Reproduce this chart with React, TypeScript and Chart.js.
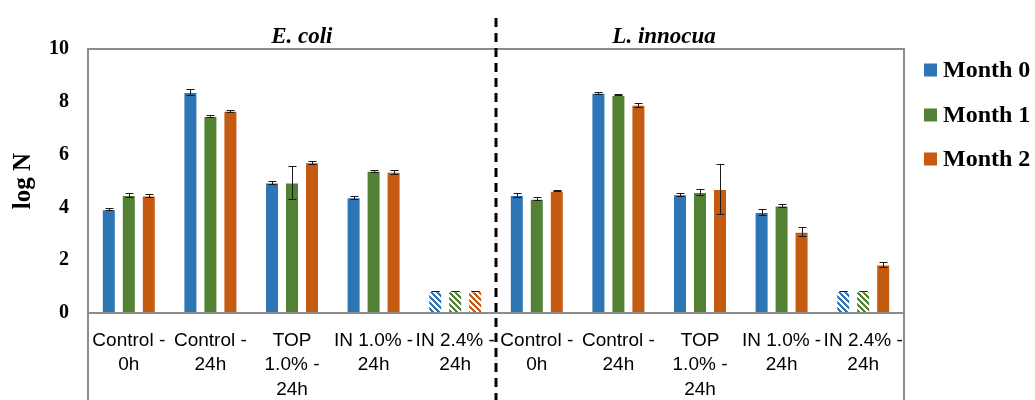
import { useEffect, useRef } from "react";
import { Chart, registerables } from "chart.js";

Chart.register(...registerables);

// Treatment groups (first five: E. coli, last five: L. innocua)
const categories: string[][] = [
  ["Control -", "0h"],
  ["Control -", "24h"],
  ["TOP", "1.0% -", "24h"],
  ["IN 1.0% -", "24h"],
  ["IN 2.4% -", "24h"],
  ["Control -", "0h"],
  ["Control -", "24h"],
  ["TOP", "1.0% -", "24h"],
  ["IN 1.0% -", "24h"],
  ["IN 2.4% -", "24h"],
];

const organisms = ["E. coli", "L. innocua"];
const seriesLabels = ["Month 0", "Month 1", "Month 2"];
const seriesColors = ["#2E75B6", "#548235", "#C55A11"];

// log N means
const month0 = [3.93, 8.37, 4.94, 4.38, 0.82, 4.47, 8.34, 4.5, 3.83, 0.82];
const month1 = [4.47, 7.46, 4.94, 5.39, 0.82, 4.33, 8.26, 4.58, 4.07, 0.82];
const month2 = [4.45, 7.66, 5.71, 5.35, 0.82, 4.63, 7.89, 4.7, 3.08, 1.84];

// standard deviations
const err0 = [0.04, 0.1, 0.05, 0.05, 0, 0.08, 0.04, 0.06, 0.1, 0];
const err1 = [0.06, 0.05, 0.62, 0.04, 0, 0.06, 0.02, 0.1, 0.06, 0];
const err2 = [0.05, 0.04, 0.05, 0.08, 0, 0.02, 0.08, 0.96, 0.18, 0.08];

// below detection limit (drawn hatched)
const below0 = [false, false, false, false, true, false, false, false, false, true];
const below1 = [false, false, false, false, true, false, false, false, false, true];
const below2 = [false, false, false, false, true, false, false, false, false, false];

const yMin = 0;
const yMax = 10;
const yStep = 2;

const FRAME = "#8c8c8c";

function hatch(color: string): CanvasPattern | string {
  const size = 6;
  const c = document.createElement("canvas");
  c.width = size;
  c.height = size;
  const g = c.getContext("2d");
  if (!g) return color;
  g.fillStyle = "#ffffff";
  g.fillRect(0, 0, size, size);
  g.fillStyle = color;
  for (let y = 0; y < size; y++) {
    for (let x = 0; x < size; x++) {
      if ((((x - y) % size) + size) % size < 2.5) g.fillRect(x, y, 1, 1);
    }
  }
  const p = g.createPattern(c, "repeat");
  return p || color;
}

export default function App() {
  const ref = useRef<HTMLCanvasElement | null>(null);

  useEffect(() => {
    const canvas = ref.current;
    if (!canvas) return;

    const values = [month0, month1, month2];
    const errors = [err0, err1, err2];
    const below = [below0, below1, below2];

    const datasets = values.map((vals, i) => {
      const pat = hatch(seriesColors[i]);
      return {
        label: seriesLabels[i],
        data: vals,
        backgroundColor: vals.map((_, j) => (below[i][j] ? pat : seriesColors[i])),
        borderColor: "rgba(255,255,255,0.55)",
        borderWidth: 1,
        barPercentage: 0.7,
        categoryPercentage: 0.735,
      };
    });

    const decorations = {
      id: "decorations",
      afterDatasetsDraw(chart: any) {
        const { ctx, chartArea, scales } = chart;
        const y = scales.y;
        // error bars
        ctx.save();
        ctx.strokeStyle = "#1a1a1a";
        ctx.lineWidth = 1;
        chart.data.datasets.forEach((_: any, di: number) => {
          const meta = chart.getDatasetMeta(di);
          meta.data.forEach((bar: any, j: number) => {
            const v = values[di][j];
            const e = errors[di][j];
            const x = Math.round(bar.x) + 0.5;
            const yt = Math.round(y.getPixelForValue(v + e)) + 0.5;
            const yb = Math.round(y.getPixelForValue(v - e)) + 0.5;
            ctx.beginPath();
            ctx.moveTo(x, yt);
            ctx.lineTo(x, yb);
            ctx.moveTo(x - 4, yt);
            ctx.lineTo(x + 4, yt);
            ctx.moveTo(x - 4, yb);
            ctx.lineTo(x + 4, yb);
            ctx.stroke();
          });
        });
        ctx.restore();

        // frame and zero line
        const h = chart.height;
        ctx.save();
        ctx.strokeStyle = FRAME;
        ctx.lineWidth = 2;
        ctx.beginPath();
        ctx.moveTo(chartArea.left, h);
        ctx.lineTo(chartArea.left, chartArea.top);
        ctx.lineTo(chartArea.right, chartArea.top);
        ctx.lineTo(chartArea.right, h);
        const y0 = y.getPixelForValue(0);
        ctx.moveTo(chartArea.left, y0);
        ctx.lineTo(chartArea.right, y0);
        ctx.stroke();
        ctx.restore();
      },
      afterDraw(chart: any) {
        const { ctx, chartArea, scales } = chart;
        const x = scales.x;
        const w = chartArea.right - chartArea.left;
        // divider between organisms
        const mid = (x.getPixelForValue(4) + x.getPixelForValue(5)) / 2;
        ctx.save();
        ctx.strokeStyle = "#000";
        ctx.lineWidth = 3;
        ctx.setLineDash([9, 6]);
        ctx.beginPath();
        ctx.moveTo(mid, 18);
        ctx.lineTo(mid, chart.height);
        ctx.stroke();
        ctx.restore();

        // organism headings
        ctx.save();
        ctx.fillStyle = "#000";
        ctx.font = "italic bold 23px 'Liberation Serif', serif";
        ctx.textAlign = "center";
        ctx.textBaseline = "alphabetic";
        ctx.fillText(organisms[0], chartArea.left + w * 0.262, 43);
        ctx.fillText(organisms[1], chartArea.left + w * 0.706, 43);
        ctx.restore();

        // legend
        ctx.save();
        ctx.font = "bold 24px 'Liberation Serif', serif";
        ctx.textBaseline = "middle";
        ctx.textAlign = "left";
        const rows = [70, 115, 159];
        chart.data.datasets.forEach((ds: any, i: number) => {
          const cy = rows[i];
          ctx.fillStyle = seriesColors[i];
          ctx.fillRect(chartArea.right + 20, cy - 6.5, 13, 13);
          ctx.fillStyle = "#000";
          ctx.fillText(ds.label, chartArea.right + 39, cy + 1);
        });
        ctx.restore();
      },
    };

    const chart = new Chart(canvas, {
      type: "bar",
      data: { labels: categories, datasets: datasets as any },
      options: {
        animation: false,
        responsive: false,
        devicePixelRatio: 1,
        layout: { padding: { left: 0, right: 131, top: 49, bottom: 0 } },
        plugins: {
          legend: { display: false },
          tooltip: { enabled: false },
        },
        scales: {
          x: {
            grid: { display: false, drawTicks: false },
            border: { display: false },
            ticks: {
              color: "#000",
              font: { family: "'Liberation Sans', Arial, sans-serif", size: 19, lineHeight: 1.27 },
              padding: 16,
              maxRotation: 0,
              minRotation: 0,
              autoSkip: false,
            },
            afterFit(scale: any) {
              scale.height = 87;
            },
          },
          y: {
            min: yMin,
            max: yMax,
            grid: { display: false, drawTicks: false },
            border: { display: false },
            ticks: {
              stepSize: yStep,
              color: "#000",
              font: { family: "'Liberation Serif', 'Times New Roman', serif", size: 20, weight: "bold" },
              padding: 19,
            },
            title: {
              display: true,
              text: "log N",
              color: "#000",
              font: { family: "'Liberation Serif', 'Times New Roman', serif", size: 25, weight: "bold" },
              padding: { top: 9, bottom: 0 },
            },
            afterFit(scale: any) {
              scale.width = 88;
            },
          },
        },
      },
      plugins: [decorations],
    });

    return () => chart.destroy();
  }, []);

  return (
    <div style={{ position: "absolute", left: 0, top: 0, width: 1035, height: 400, background: "#fff" }}>
      <canvas ref={ref} width={1035} height={400} style={{ display: "block" }} />
    </div>
  );
}
